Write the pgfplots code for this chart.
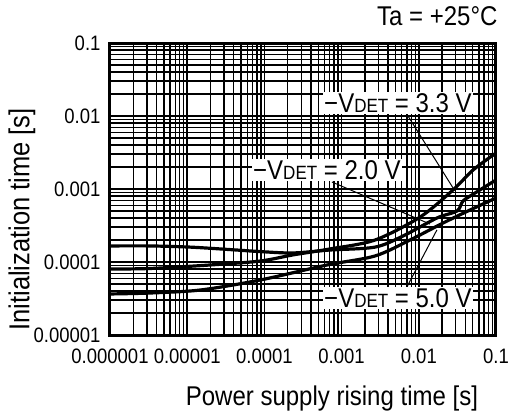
\documentclass[border=0pt]{standalone}
\usepackage{fontspec}
\setmainfont{Liberation Sans}
\usepackage{graphicx}
\usepackage{pgfplots}
\pgfplotsset{compat=1.18}

% reference text is a little taller than it is wide
\newcommand{\st}[1]{\scalebox{1}[1.13]{#1}}
\newcommand{\vdet}[1]{\st{−V{\fontsize{17}{18}\selectfont DET} = #1 V}}

\begin{document}
\begin{tikzpicture}
\path[use as bounding box] (0,0) rectangle (509pt,410pt);
\begin{axis}[
    name=ax,
    at={(110pt,75pt)}, anchor=south west,
    scale only axis,
    width=386pt, height=292pt,
    xmode=log, ymode=log,
    xmin=1e-6, xmax=0.1,
    ymin=1e-5, ymax=0.1,
    xtick={1e-6,1e-5,1e-4,1e-3,1e-2,1e-1},
    xticklabels={\st{0.000001},\st{0.00001},\st{0.0001},\st{0.001},\st{0.01},\st{0.1}},
    ytick={1e-5,1e-4,1e-3,1e-2,1e-1},
    yticklabels={\st{0.00001},\st{0.0001},\st{0.001},\st{0.01},\st{0.1}},
    minor xtick={2e-6,3e-6,4e-6,5e-6,6e-6,7e-6,8e-6,9e-6,
                 2e-5,3e-5,4e-5,5e-5,6e-5,7e-5,8e-5,9e-5,
                 2e-4,3e-4,4e-4,5e-4,6e-4,7e-4,8e-4,9e-4,
                 2e-3,3e-3,4e-3,5e-3,6e-3,7e-3,8e-3,9e-3,
                 2e-2,3e-2,4e-2,5e-2,6e-2,7e-2,8e-2,9e-2},
    minor ytick={2e-5,3e-5,4e-5,5e-5,6e-5,7e-5,8e-5,9e-5,
                 2e-4,3e-4,4e-4,5e-4,6e-4,7e-4,8e-4,9e-4,
                 2e-3,3e-3,4e-3,5e-3,6e-3,7e-3,8e-3,9e-3,
                 2e-2,3e-2,4e-2,5e-2,6e-2,7e-2,8e-2,9e-2},
    grid=both,
    major grid style={black, line width=1.7pt},
    minor grid style={black, line width=1.4pt},
    axis line style={black, line width=3pt},
    major tick length=0pt, minor tick length=0pt,
    /pgf/number format/assume math mode=true,
    ticklabel style={font=\fontsize{18.5}{20}\selectfont},
    xticklabel style={yshift=-10pt},
    yticklabel style={xshift=-6pt},
    xlabel={\st{Power supply rising time [s]}},
    ylabel={\st{Initialization time [s]}},
    xlabel style={font=\fontsize{24}{26}\selectfont,
        at={(axis description cs:0.575,-0.217)}, anchor=center},
    ylabel style={font=\fontsize{25.5}{27}\selectfont,
        at={(axis description cs:-0.228,0.396)}, anchor=center},
    clip mode=individual,
]
% curve starting high at left
\addplot[black, line width=3.2pt, smooth, tension=0.5] coordinates {
    (1e-6,1.66e-4) (3.3e-6,1.66e-4) (1.09e-5,1.60e-4) (3.58e-5,1.48e-4)
    (8.77e-5,1.39e-4) (2.34e-4,1.33e-4) (7.08e-4,1.46e-4) (2.71e-3,1.60e-4)
    (6.24e-3,2.27e-4) (1.72e-2,4.01e-4) (3.13e-2,5.0e-4) (3.74e-2,6.85e-4)
    (5.35e-2,8.81e-4) (0.1,1.33e-3)
};
% steepest curve
\addplot[black, line width=3.2pt, smooth, tension=0.5] coordinates {
    (1e-6,8.02e-5) (3.3e-6,8.15e-5) (1.97e-5,9.10e-5) (8.77e-5,1.03e-4)
    (2.34e-4,1.25e-4) (7.08e-4,1.51e-4) (2.71e-3,2.00e-4) (1.04e-2,4.13e-4)
    (2.77e-2,9.68e-4) (5.04e-2,1.82e-3) (0.1,3.11e-3)
};
% lowest curve
\addplot[black, line width=3.2pt, smooth, tension=0.5] coordinates {
    (1e-6,3.65e-5) (3.3e-6,3.76e-5) (1.47e-5,4.13e-5) (8.77e-5,5.66e-5)
    (6.47e-4,9.10e-5) (2.71e-3,1.21e-4) (7.69e-3,2.00e-4) (2.06e-2,3.42e-4)
    (4.6e-2,5.15e-4) (0.1,7.53e-4)
};
% leader lines
\draw[black, line width=1pt] (rel axis cs:0.764,0.767) -- (rel axis cs:0.889,0.503);
\draw[black, line width=1pt] (rel axis cs:0.575,0.524) -- (rel axis cs:0.829,0.380);
\draw[black, line width=1pt] (rel axis cs:0.769,0.164) -- (rel axis cs:0.847,0.360);
% labels
\node[fill=white, inner sep=1.5pt, font=\fontsize{24}{26}\selectfont]
    at (rel axis cs:0.746,0.795) {\vdet{3.3}};
\node[fill=white, inner sep=1.5pt, font=\fontsize{24}{26}\selectfont]
    at (rel axis cs:0.562,0.565) {\vdet{2.0}};
\node[fill=white, inner sep=1.5pt, font=\fontsize{24}{26}\selectfont]
    at (rel axis cs:0.746,0.127) {\vdet{5.0}};
\end{axis}
\node[anchor=base east, font=\fontsize{24}{26}\selectfont]
    at ([xshift=5pt, yshift=18pt]ax.north east) {\st{Ta = +25°C}};
\end{tikzpicture}
\end{document}
